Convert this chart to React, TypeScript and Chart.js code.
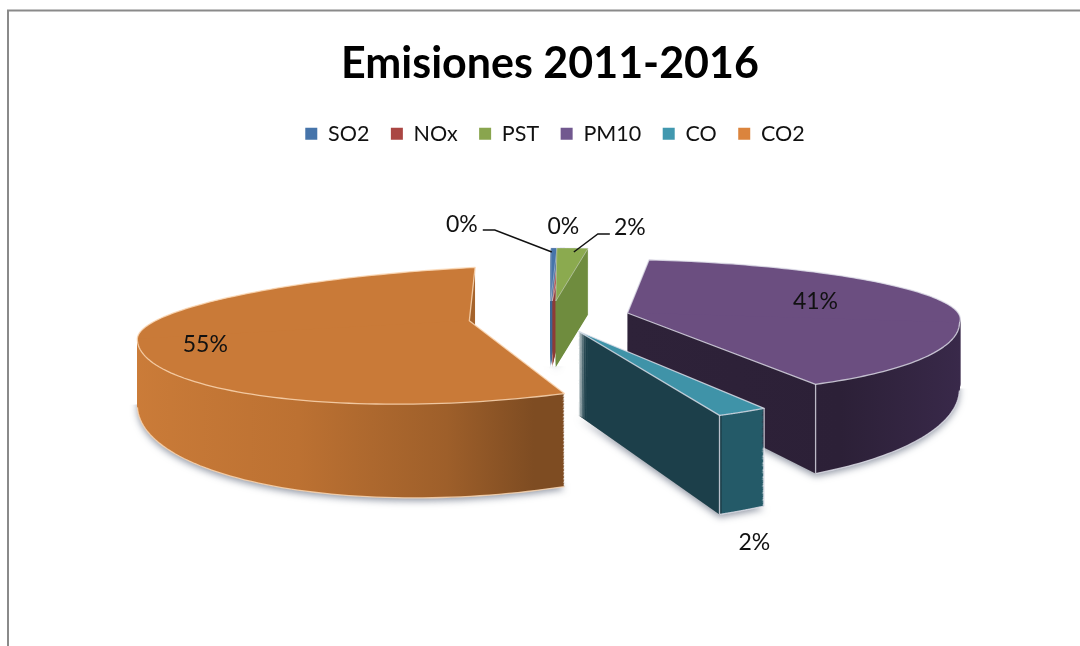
import React, { useEffect, useRef } from "react";
import { Chart, registerables } from "chart.js";

Chart.register(...registerables);

const categories = ["SO2", "NOx", "PST", "PM10", "CO", "CO2"];
const values = [0.3, 0.3, 1.5, 40.3, 2.45, 54.6];
const chartTitle = "Emisiones 2011-2016";

const legendColors = ["#4674AA", "#AA4643", "#89A54E", "#71588F", "#4198AF", "#DB843D"];
const faceColors = ["#4674AA", "#AA4643", "#8BAA4F", "#6B4E80", "#3F93A8", "#C97A38"];
// wall gradient stops per slice: [fraction, colour]
const wallStops: [number, string][][] = [
  [[0, "#3D6493"], [1, "#3D6493"]],
  [[0, "#8E3A36"], [1, "#8E3A36"]],
  [[0, "#6F8C3E"], [1, "#6F8C3E"]],
  [[0, "#2E2239"], [0.6, "#2C2037"], [1, "#39294A"]],
  [[0, "#1C3F4A"], [0.69, "#1C3F4A"], [0.695, "#245A68"], [1, "#245A68"]],
  [[0, "#CB7C39"], [0.45, "#BC7132"], [0.8, "#9E5F2A"], [1, "#7E4C22"]],
];
const wallSpan: [number, number][] = [[-60, 60], [-60, 60], [-60, 60], [0, 332], [0, 188], [-335, 98]];

// 3D styling
const RADIUS = 332;
const CENTER = { x: 550, y: 317 };
const EXPLODE = 80;
const EXPLODE_KY = 0.2;
const DEPTH = [66, 66, 66, 66, 84, 66];
const KU = 0.16;
const KD = [0.24, 0.24, 0.24, 0.24, 0.28, 0.245];
const KD_GROW = [0.085, 0.085, 0.085, 0.085, 0.05, 0.085];
const SHEAR = [0, 0, 0, 0.03, 0.0, -0.055];
const SKEW_UP = [0, 0, 0, -0.072, 0, 0];
const TILT = [5, 5, 3, -3, -2.5, 6];
const NUDGE_X = [7, 7, 6, 0, -8, -3];
const DRAW_ORDER = [5, 0, 1, 2, 3, 4];
const CORNER_EDGES = [false, false, false, true, true, false];
const LABEL_OFFSET: [number, number][] = [
  [-89, -76],
  [11, -74],
  [74, -73],
  [188, -11],
  [176, 211],
  [-264, 24],
];
const LEADERS: Record<number, [number, number][]> = {
  0: [[-68, -71], [-56, -71], [1, -49]],
  2: [[54, -67], [42, -67], [18, -49]],
};

function apexOf(el: any, i: number) {
  const mid = (el.startAngle + el.endAngle) / 2;
  return {
    x: CENTER.x + Math.cos(mid) * EXPLODE + NUDGE_X[i],
    y: CENTER.y + Math.sin(mid) * EXPLODE * EXPLODE_KY,
  };
}

function project(el: any, i: number, angle: number, r: number, kd: number, dy = 0) {
  const a = apexOf(el, i);
  const t = angle + (TILT[i] * Math.PI) / 180;
  const x = Math.cos(t) * r;
  const y = Math.sin(t) * r;
  const k = y < 0 ? KU : kd;
  return {
    x: a.x + x + (y < 0 ? SKEW_UP[i] * y : 0),
    y: a.y + k * y + SHEAR[i] * x + dy,
    lower: y >= 0,
  };
}

function drawSliced(ctx: any, el: any, i: number, dy: number, kd: number, upper = true) {
  const a = apexOf(el, i);
  const tilt = (TILT[i] * Math.PI) / 180;
  const halves = upper ? [0, 1] : [1];
  for (const h of halves) {
    ctx.save();
    ctx.translate(a.x, a.y + dy);
    ctx.transform(1, SHEAR[i], h === 0 ? SKEW_UP[i] : 0, h === 0 ? KU : kd, 0, 0);
    ctx.beginPath();
    if (h === 0) ctx.rect(-700, -1500, 1400, 1502);
    else ctx.rect(-700, -2, 1400, 1500);
    ctx.clip();
    ctx.rotate(tilt);
    ctx.translate(-el.x, -el.y);
    el.draw(ctx);
    ctx.restore();
  }
}

const pie3d = {
  id: "pie3d",
  afterLayout(chart: any) {
    // the legend sits slightly right of the title in the reference
    chart.legend.left += 5;
    chart.legend.right += 5;
  },
  beforeDatasetsDraw(chart: any) {
    const ctx = chart.ctx;
    const meta = chart.getDatasetMeta(0);
    const total = values.reduce((s, v) => s + v, 0);

    // frame
    ctx.save();
    ctx.strokeStyle = "#8a8a8a";
    ctx.lineWidth = 2;
    ctx.beginPath();
    ctx.moveTo(8, chart.height);
    ctx.lineTo(8, 10.5);
    ctx.lineTo(chart.width, 10.5);
    ctx.stroke();
    ctx.restore();

    for (const i of DRAW_ORDER) {
      const el = meta.data[i];
      const orig = el.options;
      const a = apexOf(el, i);
      const g2 = ctx.createLinearGradient(el.x + wallSpan[i][0], 0, el.x + wallSpan[i][1], 0);
      wallStops[i].forEach(([f, c]) => g2.addColorStop(f, c));

      // soft shadow under the wall
      ctx.save();
      ctx.shadowColor = "rgba(90,100,120,0.65)";
      ctx.shadowBlur = 7;
      ctx.shadowOffsetY = 3;
      el.options = { ...orig, backgroundColor: "#999" };
      drawSliced(ctx, el, i, DEPTH[i], KD[i] + KD_GROW[i], false);
      ctx.restore();

      el.options = { ...orig, backgroundColor: g2 };
      for (let d = DEPTH[i]; d >= 1; d--) {
        drawSliced(ctx, el, i, d, KD[i] + (KD_GROW[i] * d) / DEPTH[i]);
      }
      el.options = { ...orig, backgroundColor: faceColors[i] };
      drawSliced(ctx, el, i, 0, KD[i]);
      el.options = orig;

      // outlines
      ctx.save();
      ctx.lineJoin = "round";
      ctx.strokeStyle = i === 5 ? "rgba(250,215,180,0.85)" : "rgba(225,225,235,0.8)";
      ctx.lineWidth = i < 3 ? 0.6 : 1.3;
      const N = 120;
      ctx.beginPath();
      ctx.moveTo(a.x, a.y);
      for (let s = 0; s <= N; s++) {
        const t = el.startAngle + ((el.endAngle - el.startAngle) * s) / N;
        const p = project(el, i, t, RADIUS, KD[i]);
        ctx.lineTo(p.x, p.y);
      }
      ctx.closePath();
      ctx.stroke();

      // lower rim of the wall: only the front half is visible
      if (i >= 3) {
        ctx.beginPath();
        let started = false;
        for (let s = 0; s <= N; s++) {
          const t = el.startAngle + ((el.endAngle - el.startAngle) * s) / N;
          const p = project(el, i, t, RADIUS, KD[i] + KD_GROW[i], DEPTH[i]);
          if (!p.lower) continue;
          if (!started) {
            ctx.moveTo(p.x, p.y);
            started = true;
          } else ctx.lineTo(p.x, p.y);
        }
        ctx.stroke();
      }
      if (CORNER_EDGES[i]) {
        for (const ang of i === 4 ? [el.startAngle, el.endAngle] : [el.endAngle]) {
          const p0 = project(el, i, ang, RADIUS, KD[i]);
          const p1 = project(el, i, ang, RADIUS, KD[i] + KD_GROW[i], DEPTH[i]);
          ctx.beginPath();
          ctx.moveTo(p0.x, p0.y);
          ctx.lineTo(p1.x, p1.y);
          ctx.stroke();
        }
      }
      ctx.restore();
    }

    // labels and leader lines
    ctx.save();
    ctx.fillStyle = "#111";
    ctx.textAlign = "center";
    ctx.textBaseline = "middle";
    ctx.font = "23px Lato";
    meta.data.forEach((el: any, i: number) => {
      const a = apexOf(el, i);
      const txt = Math.round((values[i] / total) * 100) + "%";
      ctx.fillText(txt, a.x + LABEL_OFFSET[i][0], a.y + LABEL_OFFSET[i][1]);
      const lead = LEADERS[i];
      if (lead) {
        ctx.strokeStyle = "#111";
        ctx.lineWidth = 1.5;
        ctx.beginPath();
        lead.forEach(([dx, dy], j) => {
          if (j === 0) ctx.moveTo(a.x + dx, a.y + dy);
          else ctx.lineTo(a.x + dx, a.y + dy);
        });
        ctx.stroke();
      }
    });
    ctx.restore();
    return false;
  },
};

export default function App() {
  const ref = useRef<HTMLCanvasElement>(null);
  useEffect(() => {
    document.body.style.margin = "0";
    document.body.style.background = "#fff";
    const chart = new Chart(ref.current as HTMLCanvasElement, {
      type: "pie",
      data: {
        labels: categories,
        datasets: [{ data: values, backgroundColor: legendColors, borderWidth: 0 }],
      },
      plugins: [pie3d],
      options: {
        animation: false,
        responsive: false,
        devicePixelRatio: 1,
        rotation: -5,
        radius: RADIUS,
        layout: { padding: { left: 20, top: 38 } },
        plugins: {
          tooltip: { enabled: false },
          title: {
            display: true,
            text: chartTitle,
            color: "#000",
            font: { family: "Lato", size: 43, weight: "bold" },
            padding: { top: 0, bottom: 12 },
          },
          legend: {
            position: "top",
            align: "center",
            labels: {
              color: "#111",
              font: { family: "Lato", size: 21.5 },
              boxWidth: 12,
              boxHeight: 12,
              padding: 21.5,
            },
          },
        },
      },
    } as any);
    return () => chart.destroy();
  }, []);
  return <canvas ref={ref} width={1080} height={646} style={{ display: "block" }} />;
}
